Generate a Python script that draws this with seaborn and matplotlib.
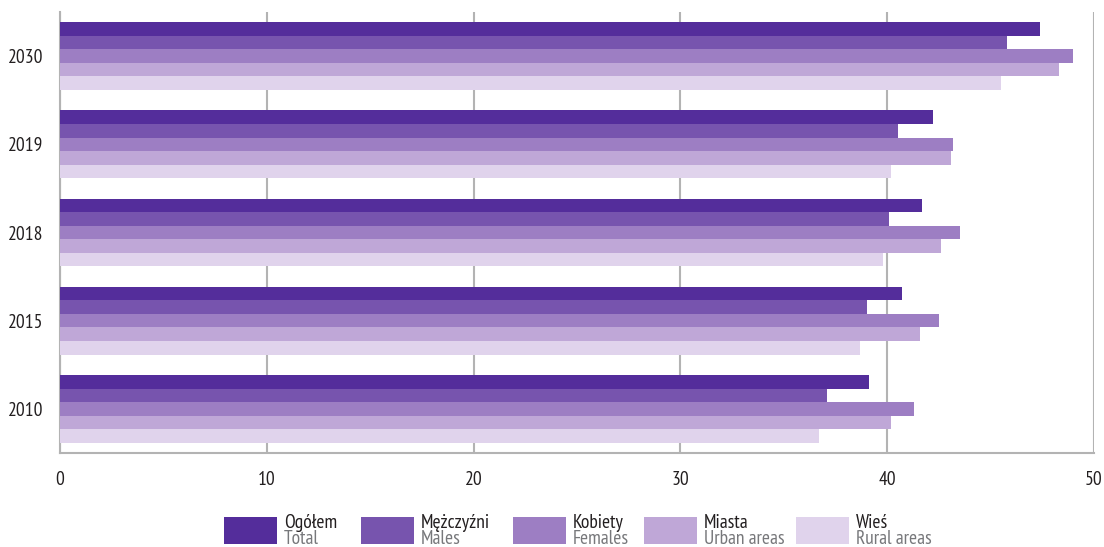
import matplotlib
matplotlib.use("Agg")
import matplotlib.pyplot as plt
import matplotlib.patches as mpatches
import pandas as pd
import seaborn as sns

years = ["2030", "2019", "2018", "2015", "2010"]
total = [47.4, 42.2, 41.7, 40.7, 39.1]
males = [45.8, 40.5, 40.1, 39.0, 37.1]
females = [49.0, 43.2, 43.5, 42.5, 41.3]
urban = [48.3, 43.1, 42.6, 41.6, 40.2]
rural = [45.5, 40.2, 39.8, 38.7, 36.7]

series_pl = ["Ogółem", "Mężczyźni", "Kobiety", "Miasta", "Wieś"]
series_en = ["Total", "Males", "Females", "Urban areas", "Rural areas"]
colors = ["#542d9b", "#7754ae", "#9d7ec3", "#bfa7d7", "#e0d3ec"]

x_ticks = [0, 10, 20, 30, 40, 50]


def main():
    sns.set_style("white")
    plt.rcParams["font.family"] = ["PT Sans Narrow", "Roboto Condensed",
                                   "Liberation Sans Narrow", "DejaVu Sans"]

    rows = []
    for name, vals in zip(series_pl, [total, males, females, urban, rural]):
        for y, v in zip(years, vals):
            rows.append({"year": y, "series": name, "value": v})
    df = pd.DataFrame(rows)

    fig = plt.figure(figsize=(11.04, 5.47), dpi=100)
    ax = fig.add_axes([60 / 1104, 1 - 453 / 547, 1034 / 1104, 441 / 547])

    sns.barplot(data=df, x="value", y="year", hue="series", order=years,
                hue_order=series_pl, palette=colors, saturation=1,
                width=0.77, orient="h", legend=False, ax=ax, zorder=3,
                linewidth=0)

    grid_c = "#b3b3b3"
    text_c = "#231f20"
    ax.set_xlim(0, 50)
    ax.set_ylim(4.5, -0.5)
    ax.set_xlabel("")
    ax.set_ylabel("")
    ax.set_xticks(x_ticks)
    ax.set_xticklabels([str(t) for t in x_ticks])
    ax.set_xticks([0, 50], minor=True)
    ax.set_yticks(range(len(years)))
    ax.set_yticklabels(years)
    ax.set_yticks([i - 0.5 for i in range(len(years) + 1)], minor=True)
    ax.tick_params(axis="both", which="major", length=0, labelsize=14,
                   labelcolor=text_c)
    ax.tick_params(axis="y", which="major", pad=12)
    ax.tick_params(axis="x", which="major", pad=13)
    ax.tick_params(axis="y", which="minor", length=9, width=1.3, color=grid_c)
    ax.tick_params(axis="x", which="minor", length=6.5, width=1.3, color=grid_c)
    ax.grid(axis="x", color=grid_c, linewidth=1.5, zorder=0)
    ax.set_axisbelow(True)
    for s in ["top", "right"]:
        ax.spines[s].set_visible(False)
    for s in ["left", "bottom"]:
        ax.spines[s].set_color(grid_c)
        ax.spines[s].set_linewidth(1.5)

    # legend
    patch_x = [224, 361, 513, 644, 796]
    for px, c, pl, en in zip(patch_x, colors, series_pl, series_en):
        fig.add_artist(mpatches.Rectangle((px / 1104, 1 - 544 / 547),
                                          53 / 1104, 27 / 547,
                                          transform=fig.transFigure,
                                          color=c, lw=0))
        fig.text((px + 60) / 1104, 1 - 528 / 547, pl, fontsize=14,
                 color=text_c, va="baseline", ha="left")
        fig.text((px + 60) / 1104, 1 - 544 / 547, en, fontsize=14,
                 color="#77787b", va="baseline", ha="left")

    fig.savefig("out.png", dpi=100)


if __name__ == '__main__':
    main()
